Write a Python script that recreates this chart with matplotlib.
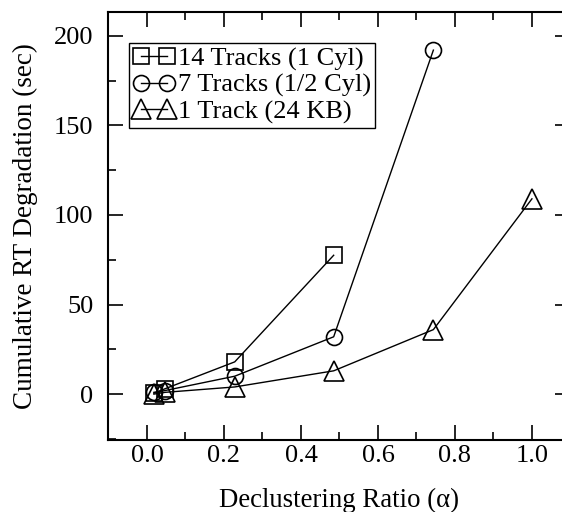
import matplotlib as mpl
mpl.use('Agg')
import matplotlib.pyplot as plt
from matplotlib.ticker import MultipleLocator

plt.rcParams['font.family'] = ['Liberation Serif', 'DejaVu Serif']

# data
x_14 = [0.018, 0.047, 0.228, 0.485]
y_14 = [0.5, 3, 18, 77.5]
x_7 = [0.018, 0.047, 0.228, 0.485, 0.744]
y_7 = [1, 2, 10, 32, 192]
x_1 = [0.018, 0.047, 0.228, 0.485, 0.744, 1.0]
y_1 = [0, 1, 4, 13, 36, 109]

labels = ['14 Tracks (1 Cyl)', '7 Tracks (1/2 Cyl)', '1 Track (24 KB)']

fig = plt.figure(figsize=(5.62, 5.12), dpi=100)
# right spine sits just past the picture's edge, as in the reference
ax = fig.add_axes([0.193, 0.141, 0.822, 0.836])

style = dict(color='black', lw=1.0, markerfacecolor='none', markeredgecolor='black', markeredgewidth=1.2)
ax.plot(x_14, y_14, marker='s', markersize=12, label=labels[0], **style)
ax.plot(x_7, y_7, marker='o', markersize=11.5, label=labels[1], **style)
ax.plot(x_1, y_1, marker='^', markersize=15, label=labels[2], **style)

ax.set_xlim(-0.1, 1.1)
ax.set_ylim(-25.5, 213.4)
ax.xaxis.set_major_locator(MultipleLocator(0.2))
ax.xaxis.set_minor_locator(MultipleLocator(0.1))
ax.yaxis.set_major_locator(MultipleLocator(50))
ax.yaxis.set_minor_locator(MultipleLocator(25))
ax.xaxis.set_major_formatter(mpl.ticker.FormatStrFormatter('%.1f'))
ax.tick_params(which='both', direction='in', top=True, right=True, labelsize=19, width=1.2)
ax.tick_params(which='major', length=11)
ax.tick_params(which='minor', length=6)
ax.tick_params(axis='x', pad=4)
ax.tick_params(axis='y', pad=11)
for s in ax.spines.values():
	s.set_linewidth(1.5)

ax.set_xlabel('Declustering Ratio (\u03b1)', fontsize=19.3, labelpad=15)
ax.set_ylabel('Cumulative RT Degradation (sec)', fontsize=19.5, labelpad=11)

# legend box is placed in pixels of the reference, converted to axes fraction
leg = ax.legend(loc='upper left', bbox_to_anchor=(0.044, 0.927), borderaxespad=0,
	fontsize=19, numpoints=2, handlelength=1.6, handletextpad=0.1,
	borderpad=0.15, labelspacing=0.1, fancybox=False, framealpha=1)
leg.get_frame().set_edgecolor('black')
leg.get_frame().set_linewidth(1.0)

plt.savefig('out.png', dpi=100)
